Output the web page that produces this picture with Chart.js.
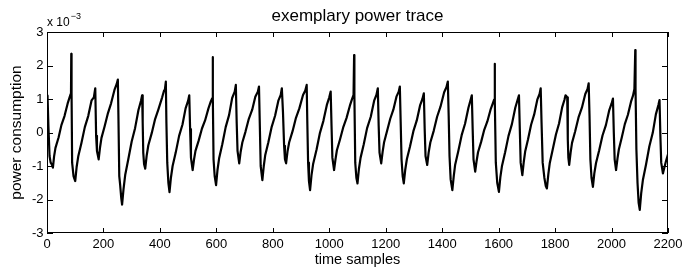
<!DOCTYPE html>
<html>
<head>
<meta charset="utf-8">
<script src="https://cdn.jsdelivr.net/npm/chart.js@4.4.1/dist/chart.umd.min.js"></script>
<style>
  html, body { margin: 0; padding: 0; background: #fff; }
  #wrap { width: 684px; height: 273px; }
</style>
</head>
<body>
<div id="wrap"><canvas id="trace"></canvas></div>
<script>
// time sample index of each read point
const samples = [
  0, 2, 5, 9, 13, 17,
  21, 25, 30, 41, 51, 62, 73, 80, 84, 85, 86, 87, 89, 94,
  100, 105, 111, 122, 134, 146, 158, 166, 171, 174, 177,
  183, 188, 193, 204, 216, 227, 239, 247, 251, 253, 256, 259, 263,
  266, 271, 277, 288, 300, 312, 324, 333, 337, 339, 341, 344,
  348, 353, 359, 371, 383, 395, 408, 415, 418, 421, 423, 426, 430,
  434, 439, 445, 456, 468, 480, 491, 500, 504, 507, 510,
  516, 521, 526, 537, 549, 560, 572, 580, 585, 587, 588, 590, 594,
  599, 604, 610, 621, 633, 645, 656, 665, 669, 672, 675,
  681, 686, 692, 703, 715, 727, 738, 747, 751, 754, 757,
  763, 768, 773, 784, 796, 808, 820, 828, 832, 836, 840, 843,
  847, 852, 858, 870, 882, 894, 907, 915, 920, 922, 925, 928,
  932, 937, 943, 955, 967, 979, 992, 1000, 1005, 1008, 1011,
  1017, 1022, 1027, 1038, 1050, 1061, 1073, 1080, 1086, 1088, 1089, 1092, 1096,
  1100, 1105, 1111, 1122, 1134, 1147, 1159, 1167, 1172, 1175, 1178,
  1184, 1189, 1194, 1204, 1216, 1227, 1238, 1246, 1250, 1253, 1256, 1260,
  1264, 1269, 1275, 1286, 1298, 1310, 1322, 1330, 1335, 1338, 1341,
  1347, 1352, 1358, 1370, 1382, 1394, 1407, 1415, 1420, 1423, 1426, 1430,
  1436, 1441, 1446, 1457, 1469, 1481, 1493, 1501, 1505, 1508, 1511,
  1517, 1522, 1527, 1538, 1549, 1560, 1572, 1579, 1584, 1586, 1587, 1590, 1595,
  1601, 1606, 1612, 1623, 1635, 1647, 1659, 1667, 1672, 1675, 1678,
  1684, 1689, 1694, 1704, 1715, 1726, 1737, 1745, 1749, 1752, 1756, 1762, 1767,
  1771, 1776, 1781, 1791, 1803, 1814, 1825, 1833, 1837, 1843, 1845, 1847,
  1850, 1855, 1860, 1871, 1883, 1895, 1907, 1915, 1919, 1922, 1925, 1929,
  1934, 1939, 1945, 1956, 1968, 1980, 1992, 2000, 2005, 2008, 2011,
  2016, 2021, 2026, 2036, 2047, 2058, 2069, 2076, 2081, 2084, 2085, 2088, 2092, 2096,
  2100, 2105, 2111, 2122, 2134, 2146, 2157, 2166, 2170, 2173, 2176,
  2182, 2187, 2193, 2200
];

// power consumption, in units of 1e-3
const power = [
  1.10, 1.05, 0.20, -0.70, -0.90, -0.95,
  -1.05, -0.72, -0.46, -0.15, 0.22, 0.49, 0.86, 1.05, 1.15, 1.20, 2.35, 1.20, -0.90, -1.30,
  -1.45, -1.03, -0.70, -0.31, 0.16, 0.49, 0.96, 1.05, 1.32, -0.10, -0.55,
  -0.80, -0.44, -0.16, 0.18, 0.58, 0.87, 1.27, 1.45, 1.58, 0.50, -1.30, -1.55, -1.95,
  -2.15, -1.70, -1.27, -0.80, -0.27, 0.13, 0.67, 0.95, 1.11, 0.30, -0.60, -0.95,
  -1.08, -0.70, -0.38, -0.02, 0.40, 0.70, 1.05, 1.26, 1.30, 1.52, 0.30, -0.90, -1.50,
  -1.78, -1.35, -1.00, -0.60, -0.10, 0.24, 0.72, 0.95, 1.11, 0.10, -0.75,
  -1.12, -0.80, -0.55, -0.25, 0.12, 0.36, 0.72, 0.92, 1.02, 2.25, 1.00, -0.80, -1.30,
  -1.57, -1.12, -0.76, -0.35, 0.16, 0.52, 1.03, 1.22, 1.42, 0.30, -0.55,
  -0.92, -0.58, -0.30, 0.02, 0.41, 0.68, 1.07, 1.22, 1.37, 0.20, -1.00,
  -1.42, -1.00, -0.68, -0.30, 0.17, 0.50, 0.96, 1.12, 1.32, 0.60, -0.40, -0.80,
  -0.92, -0.57, -0.29, 0.04, 0.44, 0.72, 1.12, 1.25, 1.42, 0.40, -0.90, -1.45,
  -1.72, -1.28, -0.93, -0.51, -0.01, 0.34, 0.84, 1.05, 1.22, 0.20, -0.75,
  -1.12, -0.80, -0.53, -0.21, 0.17, 0.43, 0.80, 0.98, 1.12, 2.31, 1.10, -0.90, -1.35,
  -1.52, -1.09, -0.75, -0.36, 0.13, 0.47, 0.95, 1.12, 1.32, 0.20, -0.60,
  -0.92, -0.58, -0.30, 0.02, 0.41, 0.68, 1.07, 1.22, 1.37, 0.30, -0.80, -1.30,
  -1.52, -1.12, -0.79, -0.42, 0.04, 0.36, 0.82, 1.00, 1.17, 0.10, -0.70,
  -0.97, -0.60, -0.30, 0.05, 0.47, 0.77, 1.20, 1.35, 1.52, 0.50, -0.70, -1.40,
  -1.72, -1.30, -0.96, -0.56, -0.08, 0.26, 0.74, 0.98, 1.11, 0.10, -0.80,
  -1.17, -0.85, -0.59, -0.28, 0.08, 0.33, 0.70, 0.86, 0.98, 2.05, 0.90, -0.90, -1.50,
  -1.77, -1.34, -0.99, -0.59, -0.10, 0.25, 0.74, 0.97, 1.11, 0.10, -0.90,
  -1.27, -0.88, -0.57, -0.21, 0.23, 0.54, 0.98, 1.15, 1.32, 0.30, -0.90, -1.35, -1.60,
  -1.67, -1.25, -0.92, -0.53, -0.06, 0.27, 0.75, 0.97, 1.11, 1.05, -0.20, -0.75,
  -0.97, -0.60, -0.31, 0.03, 0.45, 0.74, 1.15, 1.30, 1.47, 0.50, -0.80, -1.35,
  -1.62, -1.22, -0.91, -0.54, -0.09, 0.22, 0.67, 0.86, 1.01, 0.00, -0.80,
  -1.12, -0.78, -0.50, -0.16, 0.25, 0.53, 0.92, 1.10, 1.30, 2.46, 1.30, -0.50, -1.50, -2.10,
  -2.31, -1.82, -1.42, -0.96, -0.41, -0.01, 0.54, 0.82, 0.97, -0.10, -0.90,
  -1.22, -1.05, -0.85, -0.65
];

const xTicks = [0, 200, 400, 600, 800, 1000, 1200, 1400, 1600, 1800, 2000, 2200];
const yTicks = [-3, -2, -1, 0, 1, 2, 3];

const FONT = '"Liberation Sans", Arial, Helvetica, sans-serif';

// matlab style box with inward ticks + the x10^-3 multiplier
const boxPlugin = {
  id: 'box',
  afterDraw(chart) {
    const { ctx, chartArea: a, scales } = chart;
    ctx.save();
    ctx.strokeStyle = '#000';
    ctx.lineWidth = 1;
    ctx.strokeRect(a.left + 0.5, a.top + 0.5, a.right - a.left - 1, a.bottom - a.top - 1);
    ctx.beginPath();
    xTicks.forEach(v => {
      const px = Math.round(scales.x.getPixelForValue(v)) + 0.5;
      ctx.moveTo(px, a.bottom); ctx.lineTo(px, a.bottom - 5);
      ctx.moveTo(px, a.top); ctx.lineTo(px, a.top + 5);
    });
    yTicks.forEach(v => {
      const py = Math.round(scales.y.getPixelForValue(v)) + 0.5;
      ctx.moveTo(a.left, py); ctx.lineTo(a.left + 6, py);
      ctx.moveTo(a.right, py); ctx.lineTo(a.right - 6, py);
    });
    ctx.stroke();

    ctx.fillStyle = '#000';
    ctx.textBaseline = 'alphabetic';
    ctx.textAlign = 'left';
    ctx.font = '12px ' + FONT;
    ctx.fillText('x 10', a.left, a.top - 6);
    const w = ctx.measureText('x 10').width;
    ctx.font = '9px ' + FONT;
    ctx.fillText('\u22123', a.left + w + 1, a.top - 13);
    ctx.restore();
  }
};

new Chart(document.getElementById('trace'), {
  type: 'line',
  data: {
    datasets: [{
      data: samples.map((s, i) => ({ x: s, y: power[i] })),
      borderColor: '#000',
      borderWidth: 2.2,
      borderJoinStyle: 'round',
      pointRadius: 0,
      tension: 0,
      fill: false
    }]
  },
  options: {
    responsive: true,
    maintainAspectRatio: false,
    animation: false,
    layout: { padding: { left: 0, right: 16, top: 0, bottom: 0 } },
    plugins: {
      legend: { display: false },
      tooltip: { enabled: false },
      title: {
        display: true,
        fullSize: false,
        text: 'exemplary power trace',
        color: '#000',
        font: { family: FONT, size: 17, weight: 'normal' },
        padding: { top: 6, bottom: 5.6 }
      }
    },
    scales: {
      x: {
        type: 'linear',
        min: 0, max: 2200,
        afterBuildTicks: s => { s.ticks = xTicks.map(v => ({ value: v })); },
        afterFit: s => { s.height = 40; s.paddingLeft = 0; s.paddingRight = 0; },
        grid: { display: false, drawTicks: false },
        border: { display: false },
        ticks: { color: '#000', font: { family: FONT, size: 13 }, padding: 4, maxRotation: 0, autoSkip: false,
                 callback: v => String(v) },
        title: { display: true, text: 'time samples', color: '#000',
                 font: { family: FONT, size: 14.5 }, padding: { top: 0, bottom: 4.3 } }
      },
      y: {
        min: -3, max: 3,
        afterBuildTicks: s => { s.ticks = yTicks.map(v => ({ value: v })); },
        afterFit: s => { s.width = 47; },
        grid: { display: false, drawTicks: false },
        border: { display: false },
        ticks: { color: '#000', font: { family: FONT, size: 13 }, padding: 3.5, callback: v => String(v) },
        title: { display: true, text: 'power consumption', color: '#000',
                 font: { family: FONT, size: 15.5 }, padding: { top: 7.7, bottom: 0 } }
      }
    }
  },
  plugins: [boxPlugin]
});
</script>
</body>
</html>
